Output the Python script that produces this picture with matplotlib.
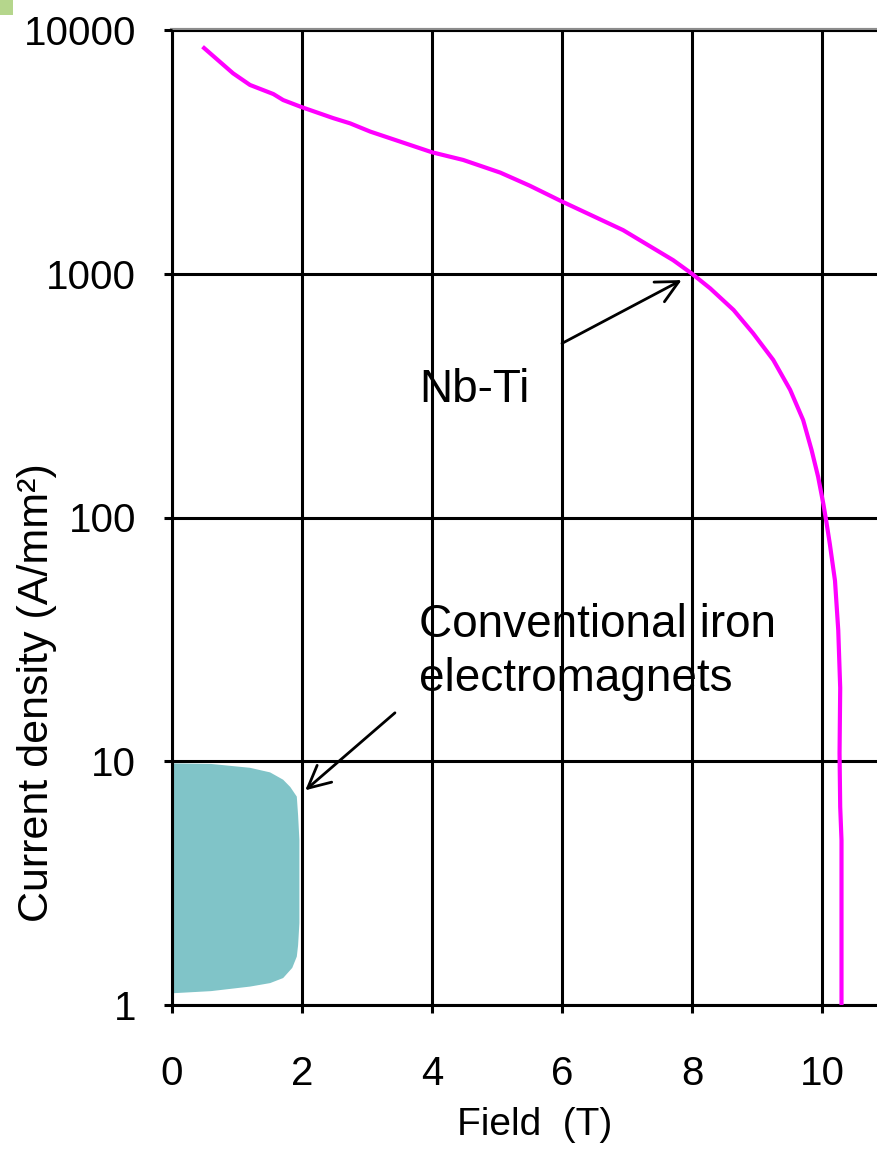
import numpy as np
import matplotlib
matplotlib.use('Agg')
import matplotlib.pyplot as plt
from matplotlib.patches import Rectangle

plt.rcParams['font.family'] = ['Liberation Sans', 'DejaVu Sans']

# Nb-Ti critical current density vs field
nbti_field = [0.47, 0.94, 1.2, 1.56, 1.71, 2.0, 2.48, 2.74, 3.05, 4.0, 4.48, 5.05, 5.5,
              5.98, 6.94, 7.71, 8.0, 8.28, 8.64, 8.94, 9.25, 9.51, 9.71, 9.84,
              9.94, 10.02, 10.07, 10.12, 10.2, 10.25, 10.28, 10.27, 10.28, 10.3, 10.3, 10.3]
nbti_jc = [8540, 6640, 5950, 5460, 5160, 4820, 4350, 4140, 3830, 3150, 2930, 2600, 2300,
           1990, 1510, 1137, 1000, 871, 710, 570, 443, 334, 251, 189,
           147, 114, 95, 78, 55, 34.5, 20, 10.8, 6.5, 4.75, 1.19, 1.0]

# conventional iron electromagnet region (outline)
iron_field = [0, 0.6, 1.2, 1.51, 1.71, 1.82, 1.92, 1.94, 1.96, 1.96, 1.94, 1.92, 1.85,
              1.71, 1.51, 1.2, 0.6, 0]
iron_j = [9.8, 9.75, 9.4, 9.0, 8.4, 7.84, 7.16, 6.0, 4.75, 2.17, 1.76, 1.58, 1.42,
          1.29, 1.23, 1.19, 1.14, 1.117]

xticks = [0, 2, 4, 6, 8, 10]
yticks = [1, 10, 100, 1000, 10000]
ytick_labels = ['1', '10', '100', '1000', '10000']

fig = plt.figure(figsize=(8.78, 11.49), dpi=100)
ax = fig.add_axes([172/878, 144/1149, 706/878, 975/1149])

ax.fill(iron_field, iron_j, color='#80C4C8', lw=0, zorder=1)
ax.plot(nbti_field, nbti_jc, color='#FF00FF', lw=3, zorder=3, solid_capstyle='butt')

ax.set_yscale('log')
ax.set_xlim(0, 706/65)
ax.set_ylim(1, 10000)
ax.set_xticks(xticks)
ax.set_yticks(yticks)
ax.set_yticklabels(ytick_labels)
ax.minorticks_off()
ax.grid(True, color='black', lw=2.2, zorder=2)
ax.set_axisbelow(False)
ax.tick_params(direction='out', length=6, width=2.2, labelsize=29)
ax.tick_params(axis='y', pad=20)
ax.tick_params(axis='x', pad=30)

for s in ['left', 'bottom']:
    ax.spines[s].set_linewidth(2.2)
ax.spines['top'].set_color('#8c8c8c')
ax.spines['top'].set_linewidth(3)
ax.spines['right'].set_visible(False)

ax.set_xlabel('Field  (T)', fontsize=28)
ax.xaxis.set_label_coords(0.513, -0.105)
ax.set_ylabel('Current density (A/mm²)', fontsize=31)
ax.yaxis.set_label_coords(-0.163, 0.32)

ax.annotate('', xy=(7.84, 942), xytext=(6.0, 518),
            arrowprops=dict(arrowstyle='->', color='black', lw=2, mutation_scale=40,
                            shrinkA=0, shrinkB=0))
ax.text(3.8, 334, 'Nb-Ti', fontsize=33, ha='left', va='center')

ax.annotate('', xy=(2.05, 7.6), xytext=(3.43, 15.8),
            arrowprops=dict(arrowstyle='->', color='black', lw=2, mutation_scale=40,
                            shrinkA=0, shrinkB=0))
ax.text(3.8, 28, 'Conventional iron\nelectromagnets', fontsize=33, ha='left',
        va='center', linespacing=1.3)

# small green mark in the corner of the slide
fig.patches.append(Rectangle((0, 1 - 15/1149), 13/878, 15/1149,
                             transform=fig.transFigure, color='#B5D68C', lw=0))

fig.savefig('out.png', dpi=100)
